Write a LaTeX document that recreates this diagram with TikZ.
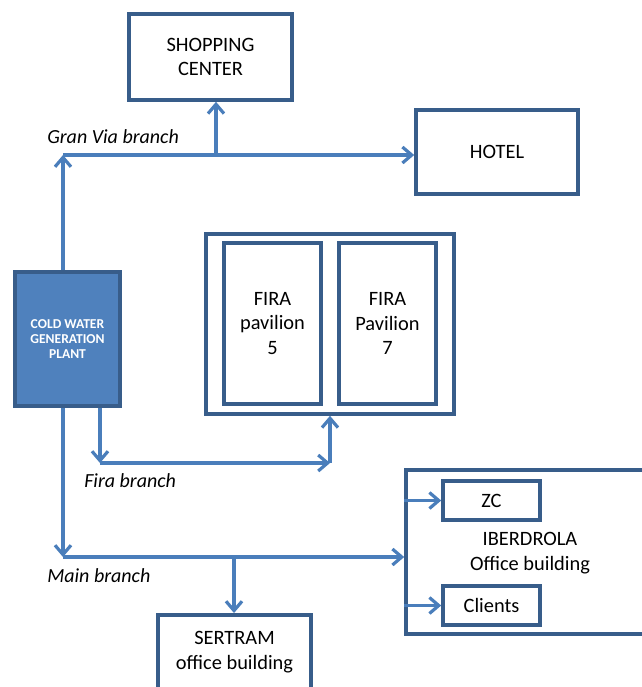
\documentclass[tikz,border=0pt]{standalone}
\usepackage{fontspec}
\setmainfont{Carlito}
\usetikzlibrary{arrows.meta}
\definecolor{boxline}{HTML}{385D8A}
\definecolor{pipe}{HTML}{4A7EBB}
\definecolor{plantfill}{HTML}{4F81BD}
\begin{document}
\begin{tikzpicture}[x=0.75pt,y=-0.75pt,
  box/.style={draw=boxline,line width=2.7pt,rectangle,align=center,
    font=\fontsize{15.3}{18.5}\selectfont,inner sep=0pt},
  txt/.style={font=\fontsize{15.3}{18.5}\selectfont,align=center,inner sep=0pt},
  pipeline/.style={draw=pipe,line width=2.4pt},
  flow/.style={pipeline,-{Straight Barb[length=7pt,width=12pt,line width=2.4pt]}},
  branchlabel/.style={font=\fontsize{15}{18}\selectfont\itshape,anchor=west,inner sep=0pt}]
\useasboundingbox (0,0) rectangle (642,687);

% buildings
\node[box,minimum width=122.25pt,minimum height=64.5pt] (shop) at (210.5,57) {SHOPPING\\CENTER};
\node[box,minimum width=121.5pt,minimum height=63pt] (hotel) at (497,152) {HOTEL};
\node[box,minimum width=186pt,minimum height=135pt] (fira) at (330,324) {};
\node[box,minimum width=72.75pt,minimum height=120.75pt] (pav5) at (272.5,323.5) {FIRA\\pavilion\\5};
\node[box,minimum width=72.75pt,minimum height=120.75pt] (pav7) at (387.5,323.5) {FIRA\\Pavilion\\7};
\node[box,fill=plantfill,text=white,minimum width=78.75pt,minimum height=100.5pt,
  font=\fontsize{10.2}{11.6}\selectfont\bfseries] (plant) at (67.5,339) {COLD WATER\\GENERATION\\PLANT};
\node[box,minimum width=183pt,minimum height=123pt] (iber) at (528,552) {};
\node[txt] (ibertext) at (530,553) {IBERDROLA\\Office building};
\node[box,minimum width=72.75pt,minimum height=29.25pt] (zc) at (491.5,500.5) {ZC};
\node[box,minimum width=72.75pt,minimum height=29.25pt] (clients) at (491.5,605.5) {Clients};
\node[box,minimum width=114.75pt,minimum height=64pt] (sertram) at (234.5,657.5) {};
\node[txt] (sertramtext) at (234.5,652) {SERTRAM\\office building};

% junction points
\coordinate (gv) at (63,155);
\coordinate (gvshop) at (216,155);
\coordinate (fd) at (100,463);
\coordinate (fr) at (330,463);
\coordinate (mb) at (63,557);
\coordinate (mbs) at (234,557);

% Gran Via branch
\draw[flow] (plant.north -| gv) -- (gv);
\draw[flow] (gv) -- (gv -| hotel.west);
\draw[flow] (gvshop) -- (gvshop |- shop.south);
\node[branchlabel] (gvlabel) at (47,137) {Gran Via branch};

% Fira branch
\draw[flow] (plant.south -| fd) -- (fd);
\draw[flow] (fd) -- (fr);
\draw[flow] (fr) -- (fr |- fira.south);
\node[branchlabel] (firalabel) at (84,481) {Fira branch};

% Main branch
\draw[flow] (plant.south -| mb) -- (mb);
\draw[flow] (mb) -- (mb -| iber.west);
\draw[flow] (mbs) -- (mbs |- sertram.north);
\node[branchlabel] (mainlabel) at (47,576) {Main branch};

% inside the Iberdrola building
\draw[flow] (iber.west |- zc) -- (zc.west);
\draw[flow] (iber.west |- clients) -- (clients.west);
\end{tikzpicture}
\end{document}
